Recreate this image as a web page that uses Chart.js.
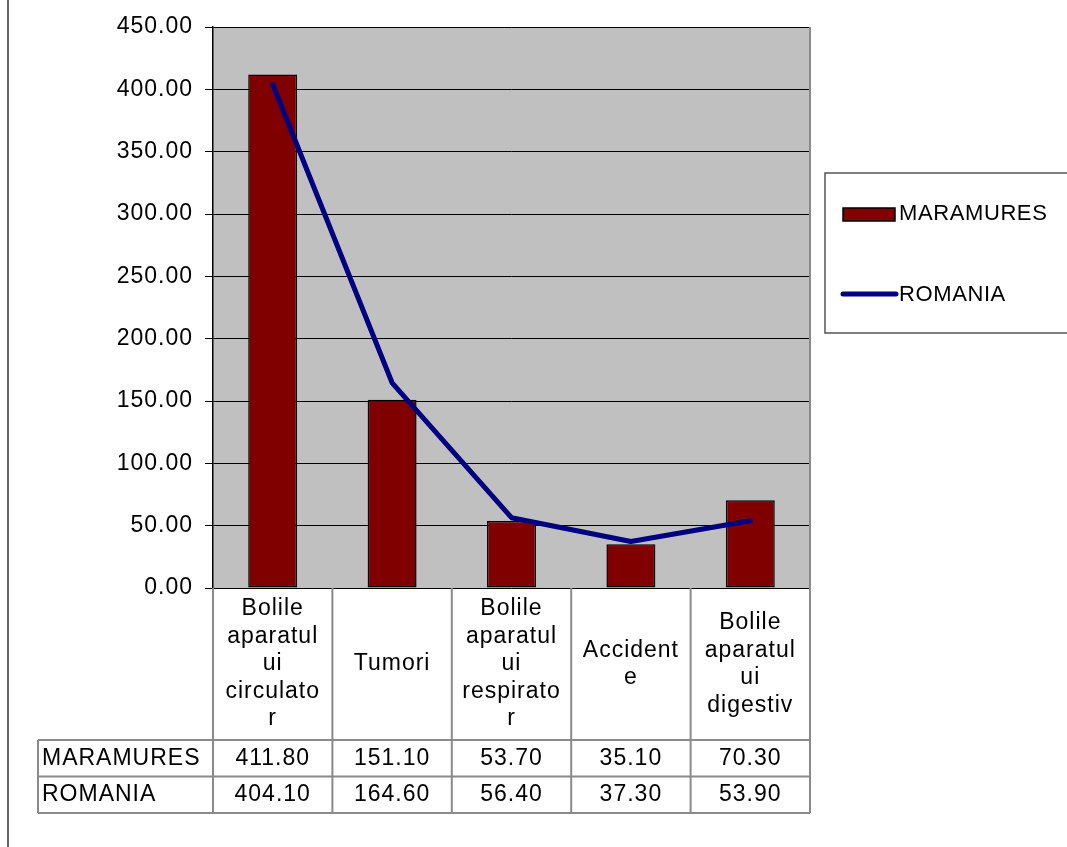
<!DOCTYPE html>
<html>
<head>
<meta charset="utf-8">
<title>MARAMURES - ROMANIA</title>
<script src="https://cdn.jsdelivr.net/npm/chart.js@4.4.0/dist/chart.umd.min.js"></script>
<style>
  body { margin: 0; background: #fff; }
  canvas { display: block; }
</style>
</head>
<body>
<canvas id="myChart" width="1067" height="847"></canvas>
<script>
// data
let categories = [
    ["Bolile", "aparatul", "ui", "circulato", "r"],
    ["Tumori"],
    ["Bolile", "aparatul", "ui", "respirato", "r"],
    ["Accident", "e"],
    ["Bolile", "aparatul", "ui", "digestiv"]
];
let seriesNames = ["MARAMURES", "ROMANIA"];
let maramures = [411.80, 151.10, 53.70, 35.10, 70.30];
let romania = [404.10, 164.60, 56.40, 37.30, 53.90];
let yMin = 0;
let yMax = 450;
let yStep = 50;

let fontFamily = "'Liberation Sans', Arial, sans-serif";
let barColor = "#800000";
let lineColor = "#000080";
let tableLine = "#8a8a8a";

// gray plot background
const plotBackground = {
    id: "plotBackground",
    beforeDraw(chart) {
        const ctx = chart.ctx;
        const a = chart.chartArea;
        ctx.letterSpacing = "1px";
        ctx.save();
        ctx.fillStyle = "#c0c0c0";
        ctx.fillRect(a.left, a.top, a.right - a.left, a.bottom - a.top);
        ctx.restore();
    },
    afterDatasetsDraw(chart) {
        // right edge of the plot
        const ctx = chart.ctx;
        const a = chart.chartArea;
        ctx.save();
        ctx.strokeStyle = tableLine;
        ctx.lineWidth = 2;
        ctx.beginPath();
        ctx.moveTo(a.right, a.top);
        ctx.lineTo(a.right, a.bottom);
        ctx.stroke();
        ctx.restore();
    }
};

// data table under the plot
const dataTable = {
    id: "dataTable",
    afterDraw(chart) {
        const ctx = chart.ctx;
        const a = chart.chartArea;
        const x = chart.scales.x;
        const half = (a.right - a.left) / categories.length / 2;
        const headTop = a.bottom;
        const headBottom = 740;
        const rowH = 36.5;
        const tableLeft = 38;
        const tableBottom = headBottom + rowH * 2;

        ctx.save();
        ctx.strokeStyle = tableLine;
        ctx.lineWidth = 2;
        ctx.beginPath();
        // vertical lines
        for (let i = 0; i < categories.length; i++) {
            let left = x.getPixelForValue(i) - half;
            ctx.moveTo(left, headTop);
            ctx.lineTo(left, tableBottom);
        }
        ctx.moveTo(a.right, headTop);
        ctx.lineTo(a.right, tableBottom);
        ctx.moveTo(tableLeft, headBottom);
        ctx.lineTo(tableLeft, tableBottom);
        // horizontal lines
        for (let r = 0; r <= 2; r++) {
            let y = headBottom + r * rowH;
            ctx.moveTo(tableLeft, y);
            ctx.lineTo(a.right, y);
        }
        ctx.stroke();

        ctx.fillStyle = "#000";
        ctx.font = "23px " + fontFamily;
        ctx.letterSpacing = "1px";
        ctx.textBaseline = "middle";
        ctx.textAlign = "center";
        const headMid = (headTop + headBottom) / 2;
        const lineH = 27.5;
        categories.forEach((lines, i) => {
            let cx = x.getPixelForValue(i);
            lines.forEach((t, j) => {
                let y = headMid + (j - (lines.length - 1) / 2) * lineH;
                ctx.fillText(t, cx, y);
            });
        });

        let rows = [maramures, romania];
        rows.forEach((vals, r) => {
            let cy = headBottom + rowH * r + rowH / 2;
            ctx.textAlign = "left";
            ctx.fillText(seriesNames[r], tableLeft + 4, cy);
            ctx.textAlign = "center";
            vals.forEach((v, i) => {
                ctx.fillText(v.toFixed(2), x.getPixelForValue(i), cy);
            });
        });
        ctx.restore();
    }
};

// legend box on the right
const legendBox = {
    id: "legendBox",
    afterDraw(chart) {
        const ctx = chart.ctx;
        ctx.save();
        ctx.strokeStyle = "#555";
        ctx.lineWidth = 1.5;
        ctx.strokeRect(825, 173, 250, 160);

        ctx.fillStyle = barColor;
        ctx.fillRect(843, 208, 52, 13);
        ctx.strokeStyle = "#000";
        ctx.lineWidth = 1.5;
        ctx.strokeRect(843, 208, 52, 13);

        ctx.strokeStyle = lineColor;
        ctx.lineWidth = 5;
        ctx.lineCap = "round";
        ctx.beginPath();
        ctx.moveTo(843, 294);
        ctx.lineTo(896, 294);
        ctx.stroke();

        ctx.fillStyle = "#000";
        ctx.font = "22px " + fontFamily;
        ctx.letterSpacing = "0.6px";
        ctx.textAlign = "left";
        ctx.textBaseline = "middle";
        ctx.fillText(seriesNames[0], 899, 214);
        ctx.fillText(seriesNames[1], 899, 295);

        // outer frame line on the left
        ctx.strokeStyle = "#333";
        ctx.lineWidth = 1.5;
        ctx.beginPath();
        ctx.moveTo(8, 0);
        ctx.lineTo(8, 847);
        ctx.stroke();
        ctx.restore();
    }
};

const ctx = document.getElementById("myChart").getContext("2d");
const myChart = new Chart(ctx, {
    data: {
        labels: categories.map(c => c.join("")),
        datasets: [{
            type: "line",
            label: seriesNames[1],
            data: romania,
            borderColor: lineColor,
            borderWidth: 5,
            borderCapStyle: "round",
            borderJoinStyle: "round",
            pointRadius: 0,
            tension: 0,
            order: 0
        },
        {
            type: "bar",
            label: seriesNames[0],
            data: maramures,
            backgroundColor: barColor,
            borderColor: "#000",
            borderWidth: 1.5,
            borderSkipped: false,
            barPercentage: 0.41,
            categoryPercentage: 1,
            order: 1
        }]
    },
    options: {
        responsive: false,
        animation: false,
        devicePixelRatio: 1,
        layout: {
            padding: { left: 0, top: 27, right: 257, bottom: 259 }
        },
        plugins: {
            legend: { display: false },
            tooltip: { enabled: false }
        },
        scales: {
            x: {
                display: false,
                offset: true
            },
            y: {
                min: yMin,
                max: yMax,
                afterFit(scale) {
                    scale.width = 213;
                },
                ticks: {
                    stepSize: yStep,
                    padding: 12,
                    color: "#000",
                    font: { family: fontFamily, size: 23 },
                    callback: v => v.toFixed(2)
                },
                grid: {
                    color: "#000",
                    lineWidth: 1,
                    tickLength: 8,
                    drawTicks: true
                },
                border: { color: "#000", width: 1.5 }
            }
        }
    },
    plugins: [plotBackground, dataTable, legendBox]
});
</script>
</body>
</html>
